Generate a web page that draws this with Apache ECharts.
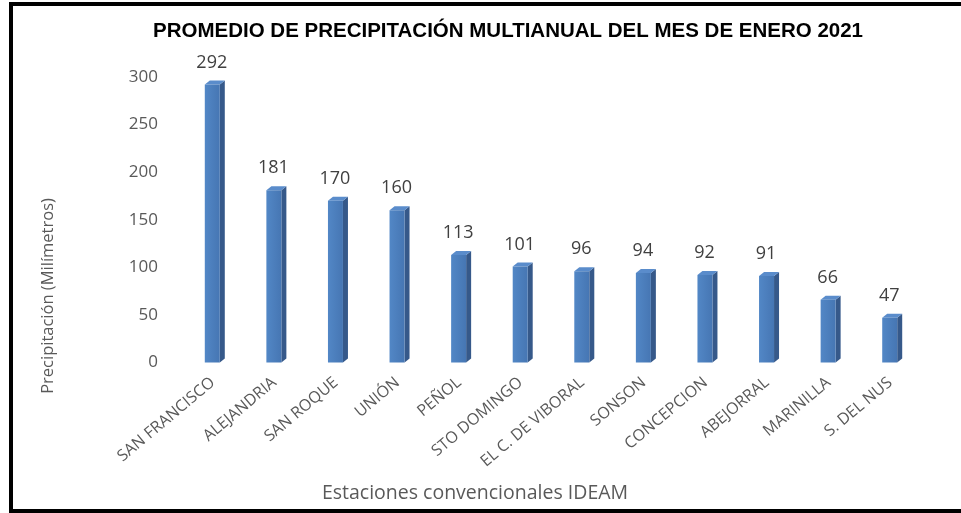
<!DOCTYPE html>
<html>
<head>
<meta charset="utf-8">
<script src="https://cdn.jsdelivr.net/npm/echarts@6/dist/echarts.min.js"></script>
<style>
  html, body { margin: 0; padding: 0; background: #fff; }
  #chart { width: 961px; height: 513px; }
</style>
</head>
<body>
<div id="chart"></div>
<script>
// estaciones y precipitación promedio (mm)
const estaciones = ['SAN FRANCISCO', 'ALEJANDRIA', 'SAN ROQUE', 'UNIÓN', 'PEÑOL', 'STO DOMINGO',
  'EL C. DE VIBORAL', 'SONSON', 'CONCEPCION', 'ABEJORRAL', 'MARINILLA', 'S. DEL NUS']
const precipitacion = [292, 181, 170, 160, 113, 101, 96, 94, 92, 91, 66, 47]

const font = '"Open Sans", Lato, sans-serif'
const chart = echarts.init(document.getElementById('chart'))

// barra con aspecto 3D: frente, lado y tapa, y su etiqueta encima
function renderBar(params, api) {
  const val = api.value(1)
  const top = api.coord([api.value(0), val])
  const base = api.coord([api.value(0), 0])
  const w = 15
  const dx = 5
  const dy = 4
  const x0 = top[0] - 8
  const x1 = x0 + w
  return {
    type: 'group',
    children: [
      {
        type: 'polygon',
        shape: { points: [[x1, top[1]], [x1 + dx, top[1] - dy], [x1 + dx, base[1] - dy], [x1, base[1]]] },
        style: { fill: '#36598a' }
      },
      {
        type: 'polygon',
        shape: { points: [[x0, top[1]], [x0 + dx, top[1] - dy], [x1 + dx, top[1] - dy], [x1, top[1]]] },
        style: { fill: '#5a8ccb' }
      },
      {
        type: 'rect',
        shape: { x: x0, y: top[1], width: w, height: base[1] - top[1] },
        style: {
          fill: new echarts.graphic.LinearGradient(0, 0, 1, 0, [
            { offset: 0, color: '#5287c6' },
            { offset: 1, color: '#4676b3' }
          ])
        }
      },
      {
        type: 'text',
        x: top[0] - 1,
        y: top[1] - 22,
        style: {
          text: String(val),
          fill: '#404040',
          font: '18px ' + font,
          align: 'center',
          verticalAlign: 'middle'
        }
      }
    ]
  }
}

chart.setOption({
  animation: false,
  backgroundColor: '#fff',
  title: {
    text: 'PROMEDIO DE PRECIPITACIÓN MULTIANUAL DEL MES DE ENERO 2021',
    left: 503,
    top: 16,
    textAlign: 'center',
    textStyle: {
      fontFamily: '"Liberation Sans", Arial, sans-serif',
      fontWeight: 'bold',
      fontSize: 20.5,
      color: '#000'
    }
  },
  graphic: [
    {
      type: 'rect',
      shape: { x: 11, y: 4, width: 980, height: 507 },
      style: { fill: 'none', stroke: '#000', lineWidth: 4 },
      z: 100
    },
    {
      type: 'text',
      x: 48,
      y: 296,
      rotation: Math.PI / 2,
      style: {
        text: 'Precipitación (Milímetros)',
        fill: '#595959',
        font: '16.5px ' + font,
        align: 'center',
        verticalAlign: 'middle'
      }
    },
    {
      type: 'text',
      x: 475,
      y: 493,
      style: {
        text: 'Estaciones convencionales IDEAM',
        fill: '#595959',
        font: '19.5px ' + font,
        align: 'center',
        verticalAlign: 'middle'
      }
    }
  ],
  grid: {
    left: 182,
    right: 40,
    top: 77,
    height: 285.5,
    containLabel: false
  },
  xAxis: {
    type: 'category',
    data: estaciones,
    axisLine: { show: false },
    axisTick: { show: false },
    axisLabel: {
      rotate: 40,
      margin: 18,
      interval: 0,
      color: '#595959',
      fontFamily: font,
      fontSize: 16
    }
  },
  yAxis: {
    type: 'value',
    min: 0,
    max: 300,
    interval: 50,
    axisLine: { show: false },
    axisTick: { show: false },
    splitLine: { show: false },
    axisLabel: {
      margin: 24,
      color: '#595959',
      fontFamily: font,
      fontSize: 17
    }
  },
  series: [
    {
      type: 'custom',
      renderItem: renderBar,
      encode: { x: 0, y: 1 },
      data: precipitacion.map((v, i) => [i, v])
    }
  ]
})
</script>
</body>
</html>
